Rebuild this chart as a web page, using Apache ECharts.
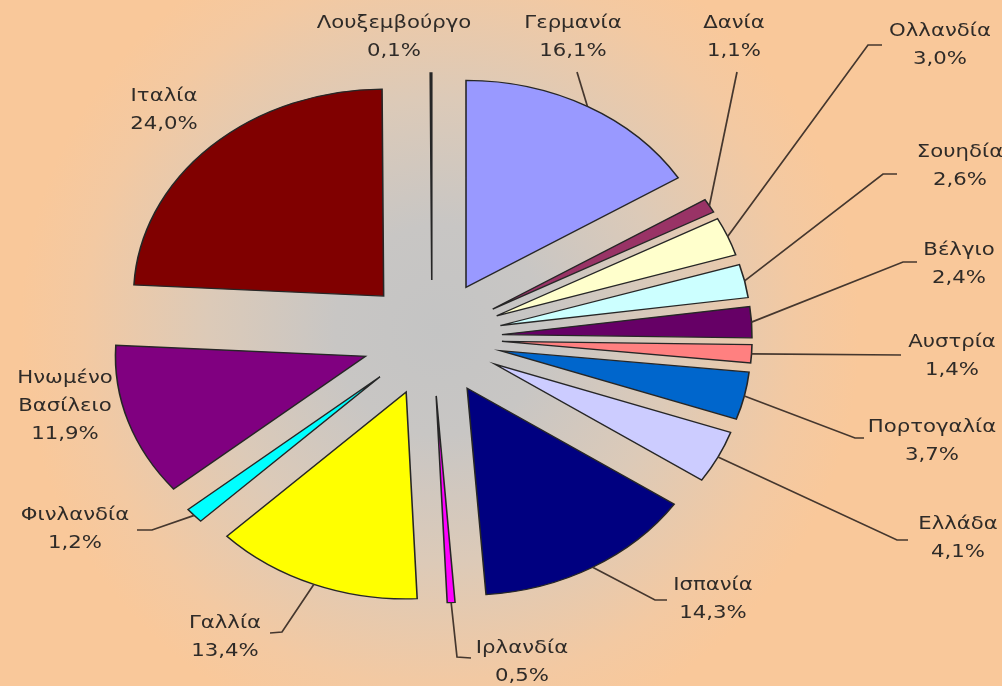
<!DOCTYPE html>
<html>
<head>
<meta charset="utf-8">
<script src="https://cdn.jsdelivr.net/npm/echarts@6/dist/echarts.min.js"></script>
<style>
  html, body { margin: 0; padding: 0; background: #f9c89a; }
  #chart { width: 1002px; height: 686px; }
</style>
</head>
<body>
<div id="chart"></div>
<script>
// Share of each country, clockwise from 12 o'clock
const countries = ['Γερμανία', 'Δανία', 'Ολλανδία', 'Σουηδία', 'Βέλγιο', 'Αυστρία', 'Πορτογαλία',
  'Ελλάδα', 'Ισπανία', 'Ιρλανδία', 'Γαλλία', 'Φινλανδία', 'Ηνωμένο Βασίλειο', 'Ιταλία', 'Λουξεμβούργο'];
const shares = [16.1, 1.1, 3.0, 2.6, 2.4, 1.4, 3.7, 4.1, 14.3, 0.5, 13.4, 1.2, 11.9, 24.0, 0.1];
const sliceColors = ['#9999ff', '#993366', '#ffffcc', '#ccffff', '#660066', '#ff8080', '#0066cc',
  '#ccccff', '#000080', '#ff00ff', '#ffff00', '#00ffff', '#800080', '#800000', '#008080'];

// Pie geometry: a circle stretched horizontally, every slice pulled out from the centre
const PIE = { cx: 432, cy: 338, r: 207, stretch: 1.208, explode: 58 };

// Label block centres and the leader-line bends that lead to them
const labelLayout = [
  { x: 573, y: 37, line: [[577, 72]] },
  { x: 734, y: 37, line: [[737, 72]] },
  { x: 940, y: 45, line: [[868, 45], [882, 45]] },
  { x: 960, y: 166, line: [[883, 174], [897, 174]] },
  { x: 959, y: 264, line: [[903, 262], [917, 262]] },
  { x: 952, y: 356, line: [[901, 355]] },
  { x: 932, y: 441, line: [[855, 438], [864, 438]] },
  { x: 958, y: 538, line: [[897, 540], [908, 540]] },
  { x: 713, y: 599, line: [[655, 600], [667, 600]] },
  { x: 522, y: 662, line: [[457, 657], [471, 658]] },
  { x: 225, y: 637, line: [[282, 632], [270, 633]] },
  { x: 75, y: 529, line: [[152, 530], [137, 530]] },
  { x: 65, y: 406 },
  { x: 164, y: 110 },
  { x: 394, y: 37 }
];

const total = shares.reduce((a, b) => a + b, 0);
const startShare = [];
shares.reduce((acc, v) => { startShare.push(acc); return acc + v; }, 0);

const fmtPct = v => v.toFixed(1).replace('.', ',') + '%';

function renderItem(params, api) {
  const i = params.dataIndex;
  const v = api.value(0);
  const a0 = startShare[i] / total * Math.PI * 2;
  const a1 = (startShare[i] + v) / total * Math.PI * 2;
  const mid = (a0 + a1) / 2;
  const ox = PIE.cx + PIE.stretch * PIE.explode * Math.sin(mid);
  const oy = PIE.cy - PIE.explode * Math.cos(mid);

  const children = [{
    type: 'sector',
    x: ox, y: oy, scaleX: PIE.stretch,
    shape: { cx: 0, cy: 0, r0: 0, r: PIE.r,
      startAngle: a0 - Math.PI / 2, endAngle: a1 - Math.PI / 2, clockwise: true },
    style: { fill: sliceColors[i], stroke: '#262626', lineWidth: 1.3, strokeNoScale: true }
  }];

  const L = labelLayout[i];
  if (L.line) {
    const edge = [ox + PIE.stretch * PIE.r * Math.sin(mid), oy - PIE.r * Math.cos(mid)];
    children.push({
      type: 'polyline',
      shape: { points: [edge].concat(L.line) },
      style: { stroke: '#45372e', lineWidth: 1.7, fill: null }
    });
  }
  children.push({
    type: 'text',
    x: L.x, y: L.y, scaleX: 1.18,
    style: {
      text: countries[i].replace(' ', '\n') + '\n' + fmtPct(v),
      x: 0, y: 0,
      fill: '#2f2b28',
      font: '18px "DejaVu Sans"',
      align: 'center', verticalAlign: 'middle',
      lineHeight: 28
    }
  });
  return { type: 'group', children };
}

const chart = echarts.init(document.getElementById('chart'), null, { renderer: 'canvas' });
chart.setOption({
  animation: false,
  graphic: [{
    type: 'rect', z: -100, silent: true,
    shape: { x: 0, y: 0, width: 1002, height: 686 },
    style: {
      fill: new echarts.graphic.RadialGradient(440, 330, 420, [
        { offset: 0, color: '#c4c4c4' },
        { offset: 0.25, color: '#c8c6c4' },
        { offset: 0.55, color: '#dccab8' },
        { offset: 0.85, color: '#f3c9a2' },
        { offset: 1, color: '#f9c89a' }
      ], true)
    }
  }],
  series: [{
    type: 'custom',
    coordinateSystem: 'none',
    silent: true,
    renderItem: renderItem,
    data: shares.map(v => [v])
  }]
});
</script>
</body>
</html>
